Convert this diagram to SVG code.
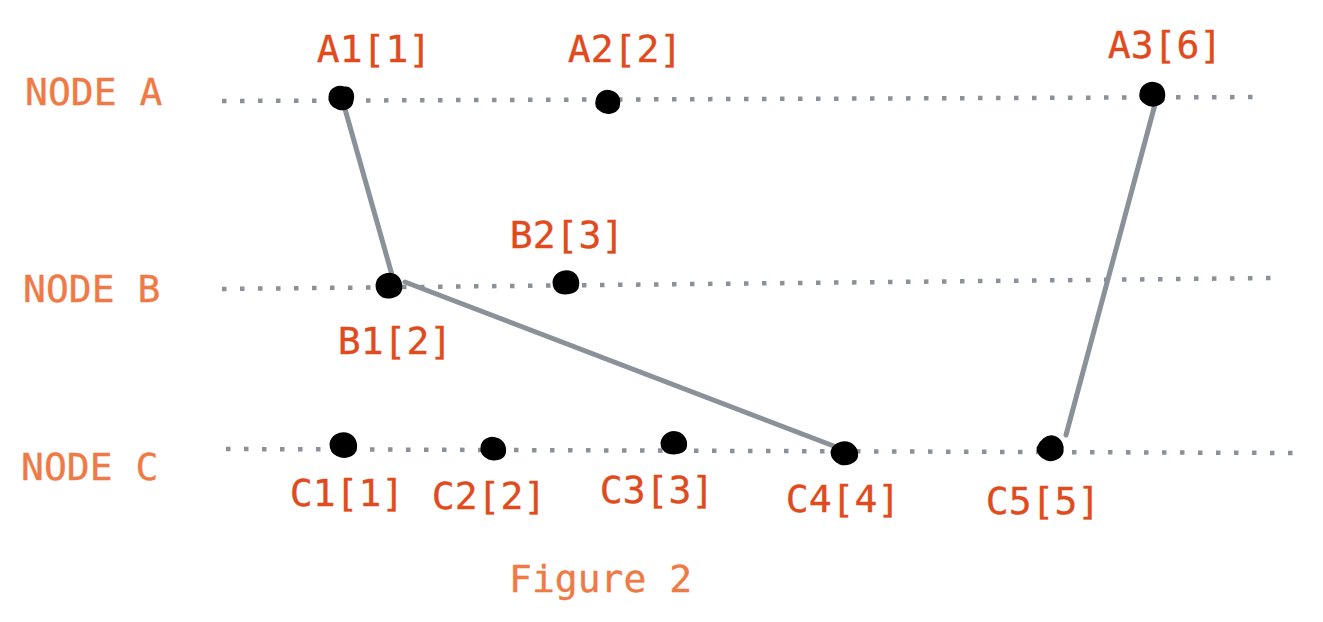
<svg xmlns="http://www.w3.org/2000/svg" width="1323" height="622" viewBox="0 0 1323 622">
<style>
.tl{stroke:#8a9198;stroke-width:4.5;stroke-dasharray:4.5 13.5;fill:none}
.cn{stroke:#8a9198;stroke-width:5;stroke-linecap:round;fill:none}
.dot{fill:#000;stroke:#000;stroke-width:3;stroke-linejoin:round}
.nl{font-family:"DejaVu Sans Mono","Liberation Mono",monospace;font-size:38px;fill:#ef7a45;stroke:#ef7a45;stroke-width:0.35}
.ev{font-family:"DejaVu Sans Mono","Liberation Mono",monospace;font-size:38px;fill:#e04a1c;stroke:#e04a1c;stroke-width:0.35;text-anchor:middle}
</style>
<rect width="1323" height="622" fill="#fff"/>
<g id="timelines">
<line class="tl" x1="222" y1="101" x2="1266" y2="97"/>
<line class="tl" x1="222" y1="289" x2="1272" y2="278"/>
<line class="tl" x1="226" y1="449" x2="1296" y2="453"/>
</g>
<g id="node-labels">
<text class="nl" x="25" y="105">NODE A</text>
<text class="nl" x="23" y="302">NODE B</text>
<text class="nl" x="21" y="480">NODE C</text>
</g>
<g id="connectors">
<line class="cn" x1="343" y1="102" x2="394" y2="282"/>
<line class="cn" x1="405" y1="282" x2="852" y2="453"/>
<line class="cn" x1="1157" y1="97" x2="1066" y2="435"/>
</g>
<g id="A1"><path class="dot" d="M330,96 C331,88 339,86 344,88 C351,87 354,94 352,101 C351,108 344,110 338,108 C332,106 329,101 330,96Z"/><text class="ev" x="374" y="62">A1[1]</text></g>
<g id="A2"><path class="dot" d="M597,101 C598,93 605,90 611,92 C618,94 620,100 618,107 C615,113 606,114 601,110 C597,108 596,104 597,101Z"/><text class="ev" x="625" y="62">A2[2]</text></g>
<g id="A3"><path class="dot" d="M1141,93 C1142,85 1150,82 1156,84 C1163,86 1165,93 1163,100 C1160,105 1151,107 1146,103 C1141,100 1140,97 1141,93Z"/><text class="ev" x="1165" y="58">A3[6]</text></g>
<g id="B1"><path class="dot" d="M377,285 C378,276 387,273 393,275 C400,277 402,285 400,291 C397,297 388,298 383,296 C378,293 377,289 377,285Z"/><text class="ev" x="395" y="354">B1[2]</text></g>
<g id="B2"><path class="dot" d="M554,282 C555,274 563,271 569,272 C577,274 579,281 577,288 C574,293 565,294 560,292 C555,290 554,286 554,282Z"/><text class="ev" x="567" y="248">B2[3]</text></g>
<g id="C1"><path class="dot" d="M331,444 C332,436 340,433 346,434 C354,436 357,443 355,450 C353,456 344,458 338,455 C333,453 331,448 331,444Z"/><text class="ev" x="347" y="506">C1[1]</text></g>
<g id="C2"><path class="dot" d="M482,448 C482,440 490,437 496,439 C503,441 506,447 504,454 C502,459 494,460 489,458 C484,456 481,452 482,448Z"/><text class="ev" x="489" y="509">C2[2]</text></g>
<g id="C3"><path class="dot" d="M662,443 C663,435 671,431 677,433 C684,435 687,442 685,448 C682,453 674,454 668,452 C663,450 662,446 662,443Z"/><text class="ev" x="657" y="503">C3[3]</text></g>
<g id="C4"><path class="dot" d="M832,452 C833,445 841,442 847,443 C855,445 858,452 856,458 C853,463 846,465 840,463 C834,460 832,456 832,452Z"/><text class="ev" x="843" y="512">C4[4]</text></g>
<g id="C5"><path class="dot" d="M1038,448 C1041,441 1047,436 1053,437 C1061,439 1063,446 1062,452 C1060,458 1053,461 1047,459 C1041,457 1038,452 1038,448Z"/><text class="ev" x="1043" y="514">C5[5]</text></g>
<g id="caption"><text class="nl" x="509" y="592">Figure 2</text></g>
</svg>
